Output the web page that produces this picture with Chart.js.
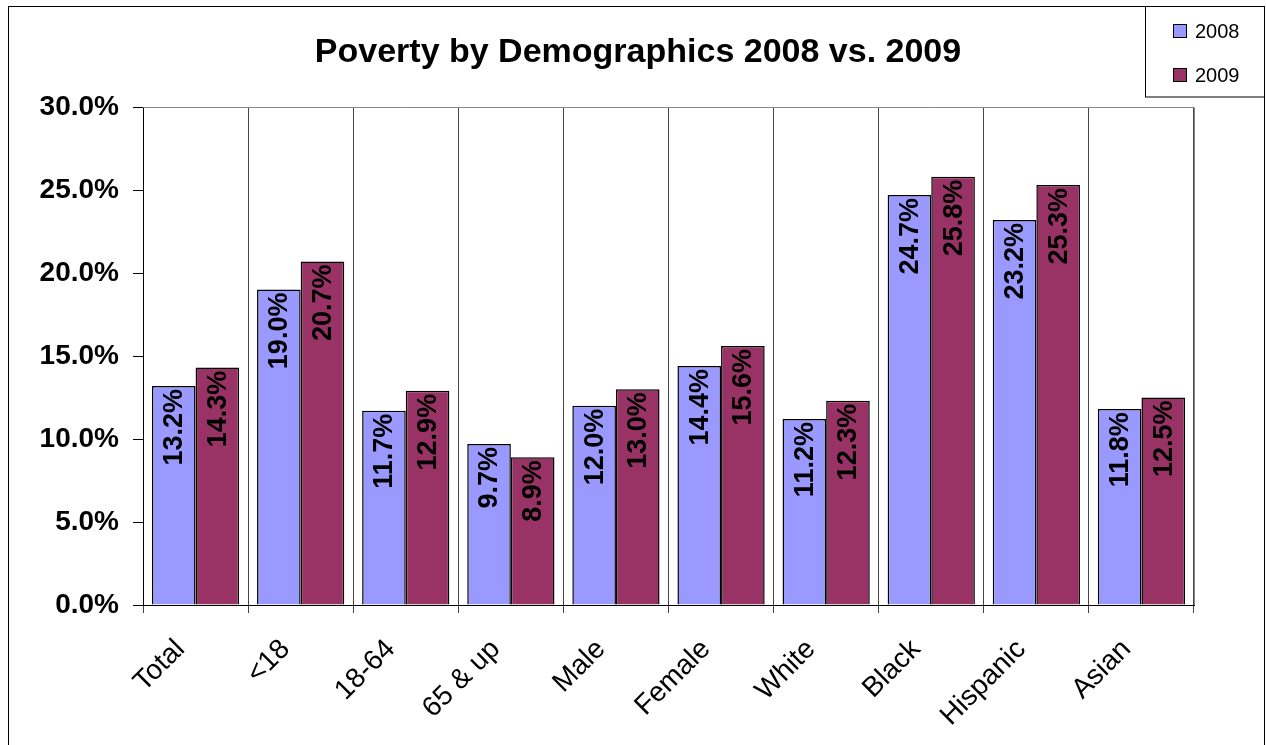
<!DOCTYPE html>
<html>
<head>
<meta charset="utf-8">
<script src="https://cdn.jsdelivr.net/npm/chart.js@4/dist/chart.umd.min.js"></script>
<style>
  html, body { margin: 0; padding: 0; background: #fff; }
  #wrap { width: 1266px; height: 745px; position: relative; }
</style>
</head>
<body>
<div id="wrap"><canvas id="povertyChart"></canvas></div>
<script>
// data (percent)
const categories = ['Total', '<18', '18-64', '65 & up', 'Male', 'Female', 'White', 'Black', 'Hispanic', 'Asian'];
const rate2008 = [13.2, 19.0, 11.7, 9.7, 12.0, 14.4, 11.2, 24.7, 23.2, 11.8];
const rate2009 = [14.3, 20.7, 12.9, 8.9, 13.0, 15.6, 12.3, 25.8, 25.3, 12.5];
const seriesNames = ['2008', '2009'];
const chartTitle = 'Poverty by Demographics 2008 vs. 2009';

const FONT = 'Arial, "Liberation Sans", Helvetica, sans-serif';

// frame, title, legend box, plot border
const framePlugin = {
    id: 'frame',
    afterDraw(chart) {
        const ctx = chart.ctx;
        const area = chart.chartArea;
        ctx.save();
        // plot area border (gray, top + right)
        ctx.strokeStyle = '#888';
        ctx.lineWidth = 1;
        ctx.beginPath();
        ctx.moveTo(area.left, area.top + 0.5);
        ctx.lineTo(area.right + 0.5, area.top + 0.5);
        ctx.lineTo(area.right + 0.5, area.bottom);
        ctx.stroke();

        // outer chart border
        ctx.strokeStyle = '#000';
        ctx.strokeRect(8.5, 6.5, 1256, 800);

        // title
        ctx.fillStyle = '#000';
        ctx.font = 'bold 34px ' + FONT;
        ctx.textAlign = 'center';
        ctx.textBaseline = 'middle';
        ctx.fillText(chartTitle, 638, 53);

        // legend
        ctx.strokeStyle = '#000';
        ctx.strokeRect(1145.5, 6.5, 119, 90.5);
        ctx.font = '20px ' + FONT;
        ctx.textAlign = 'left';
        chart.data.datasets.forEach((ds, i) => {
            const cy = 31 + i * 44;
            ctx.fillStyle = ds.backgroundColor;
            ctx.fillRect(1173.5, cy - 6.5, 13, 13);
            ctx.strokeStyle = '#000';
            ctx.strokeRect(1173.5, cy - 6.5, 13, 13);
            ctx.fillStyle = '#000';
            ctx.fillText(ds.label, 1195, cy + 1);
        });
        ctx.restore();
    }
};

// rotated value labels inside the bar tops
const barLabelPlugin = {
    id: 'barLabels',
    afterDatasetsDraw(chart) {
        const ctx = chart.ctx;
        ctx.save();
        ctx.font = 'bold 27px ' + FONT;
        ctx.fillStyle = '#000';
        ctx.textAlign = 'right';
        ctx.textBaseline = 'middle';
        chart.data.datasets.forEach((ds, di) => {
            chart.getDatasetMeta(di).data.forEach((bar, i) => {
                ctx.save();
                ctx.translate(bar.x + 1, bar.y + 3);
                ctx.rotate(-Math.PI / 2);
                ctx.fillText(ds.data[i].toFixed(1) + '%', 0, 0);
                ctx.restore();
            });
        });
        ctx.restore();
    }
};

const ctx = document.getElementById('povertyChart').getContext('2d');
new Chart(ctx, {
    type: 'bar',
    data: {
        labels: categories,
        datasets: [{
            label: seriesNames[0],
            data: rate2008,
            backgroundColor: '#9999FF',
            borderColor: '#000',
            borderWidth: 1.5,
        }, {
            label: seriesNames[1],
            data: rate2009,
            backgroundColor: '#993366',
            borderColor: '#000',
            borderWidth: 1.5,
        }]
    },
    options: {
        responsive: true,
        maintainAspectRatio: false,
        animation: false,
        layout: { padding: { top: 107, left: 10, right: 72, bottom: 0 } },
        datasets: { bar: { categoryPercentage: 0.83, barPercentage: 1.0 } },
        plugins: {
            legend: { display: false },
            title: { display: false },
            tooltip: { enabled: false },
        },
        scales: {
            x: {
                grid: { color: '#444', lineWidth: 1, tickLength: 8, offset: true },
                border: { color: '#000', width: 1 },
                ticks: {
                    color: '#000',
                    font: { family: FONT, size: 28 },
                    minRotation: 45,
                    maxRotation: 45,
                    autoSkip: false,
                    padding: 20,
                    labelOffset: -15,
                },
                afterFit(scale) { scale.height = 140; },
            },
            y: {
                min: 0,
                max: 30,
                grid: { drawOnChartArea: false, color: '#000', tickLength: 10 },
                border: { color: '#000', width: 1 },
                ticks: {
                    stepSize: 5,
                    color: '#000',
                    font: { family: FONT, size: 28, weight: 'bold' },
                    padding: 14,
                    callback: (v) => v.toFixed(1) + '%',
                },
                afterFit(scale) { scale.width = 133; },
            }
        }
    },
    plugins: [framePlugin, barLabelPlugin],
});
</script>
</body>
</html>
